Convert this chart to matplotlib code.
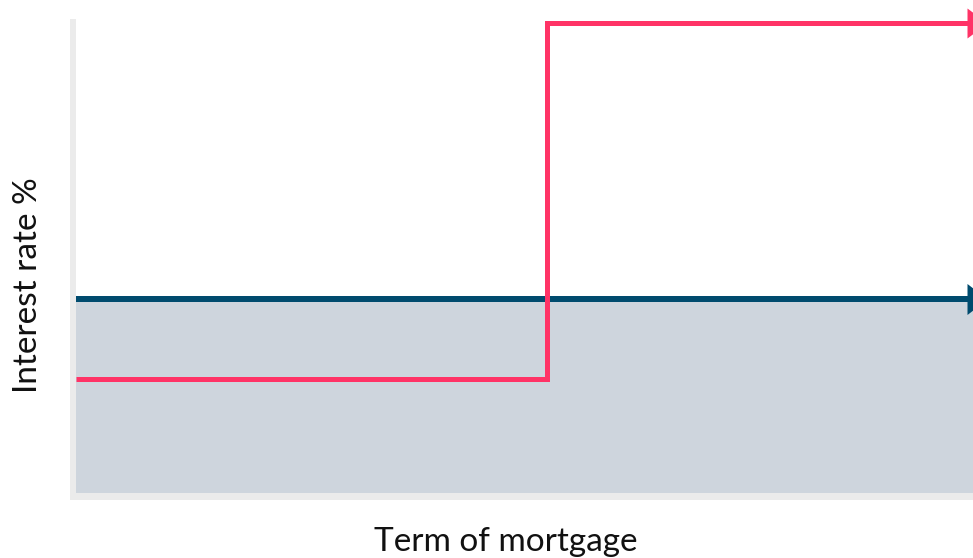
import matplotlib
matplotlib.use("Agg")
import matplotlib.pyplot as plt
from matplotlib.patches import Rectangle

# Data
term = [0, 5.25, 10]                 # term of mortgage (arbitrary units)
fixed_rate = [2.05, 2.05, 2.05]      # fixed rate line
variable_rate = [1.2, 4.96, 4.96]    # variable rate (steps-post)
x_label = "Term of mortgage"
y_label = "Interest rate %"

W, H = 973, 558
DPI = 100
fig = plt.figure(figsize=(W / DPI, H / DPI), dpi=DPI)
fig.patch.set_facecolor("white")

# axes area in pixels (image coords): left 76, right 973, top 19, bottom 493
L, R, T, B = 76, 973, 19, 493
ax = fig.add_axes([L / W, (H - B) / H, (R - L) / W, (B - T) / H])
ax.set_xlim(0, 10)
ax.set_ylim(0, 5.0)
ax.axis("off")

PINK = "#FF3366"
BLUE = "#004B6E"
FILL = "#CED5DD"
GRAY = "#EBEBEB"

ax.fill_between(term, 0, fixed_rate, color=FILL, lw=0, zorder=1)
ax.plot(term, fixed_rate, color=BLUE, lw=6 * 72 / DPI, solid_capstyle="butt", zorder=2)
ax.plot(term, variable_rate, color=PINK, lw=5 * 72 / DPI, drawstyle="steps-post",
        solid_joinstyle="miter", solid_capstyle="butt", zorder=3)

# arrow heads at the end of each line (partly beyond the figure edge)
def head(half):
    return [(-6, -half), (-6, half), (14, 0), (-6, -half)]

ax.plot([term[-1]], [variable_rate[-1]], marker=head(15), markersize=30 * 72 / DPI,
        color=PINK, markeredgewidth=0, clip_on=False, zorder=4)
ax.plot([term[-1]], [fixed_rate[-1]], marker=head(15.5), markersize=31 * 72 / DPI,
        color=BLUE, markeredgewidth=0, clip_on=False, zorder=4)

# light gray axis bars
fig.add_artist(Rectangle((70 / W, (H - 500) / H), 6 / W, (500 - 19) / H,
                         transform=fig.transFigure, color=GRAY, lw=0))
fig.add_artist(Rectangle((70 / W, (H - 500) / H), (W - 70) / W, 7 / H,
                         transform=fig.transFigure, color=GRAY, lw=0))

font = "Lato"
fig.text(505.5 / W, (H - 551) / H, x_label, ha="center", va="baseline",
         fontsize=24, family=font, color="#111111")
fig.text(37 / W, (H - 285) / H, y_label, ha="center", va="baseline", rotation=90,
         rotation_mode="anchor", fontsize=24, family=font, color="#111111")

fig.savefig("out.png", dpi=DPI)
